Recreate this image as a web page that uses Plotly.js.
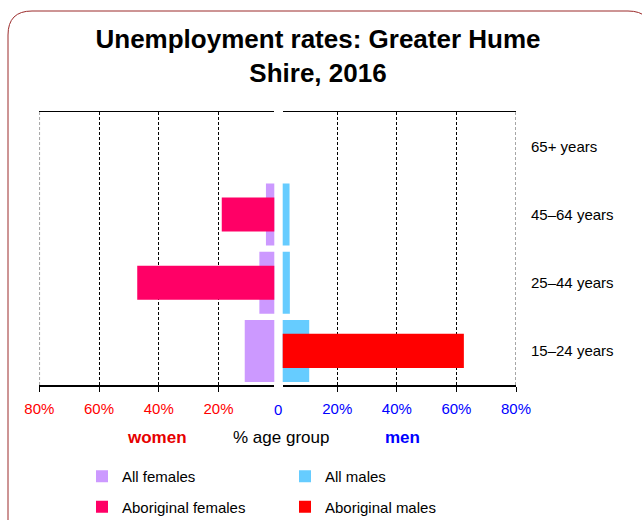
<!DOCTYPE html>
<html>
<head>
<meta charset="utf-8">
<script src="https://cdn.plot.ly/plotly-3.0.1.min.js"></script>
<style>
  body { margin: 0; background: #fff; }
  #chart { width: 642px; height: 520px; }
</style>
</head>
<body>
<div id="chart"></div>
<script>
const ageGroups = ["15–24 years", "25–44 years", "45–64 years", "65+ years"];

// unemployment rate, % of age group
const allFemales = [11.2, 6.3, 4.1, 0];
const aboriginalFemales = [0, 47.2, 18.9, 0];
const allMales = [10.6, 4.1, 4.0, 0];
const aboriginalMales = [62.5, 0, 0, 0];

const tickVals = [20, 40, 60, 80];
const tickText = tickVals.map((v) => v + "%");

const W = 642;
const H = 520;
const px = (x) => x / W;
const py = (y) => 1 - y / H;

const traces = [
  {
    name: "All females",
    y: ageGroups,
    x: allFemales,
    xaxis: "x",
    yaxis: "y",
    type: "bar",
    orientation: "h",
    width: 0.91,
    marker: { color: "#CC99FF" },
    legend: "legend",
    legendgroup: "af",
    hoverinfo: "skip",
  },
  {
    name: "Aboriginal females",
    y: ageGroups,
    x: aboriginalFemales,
    xaxis: "x",
    yaxis: "y",
    type: "bar",
    orientation: "h",
    width: 0.5,
    marker: { color: "#FF0066" },
    legend: "legend",
    legendgroup: "abf",
    hoverinfo: "skip",
  },
  {
    name: "All males",
    y: ageGroups,
    x: allMales,
    xaxis: "x2",
    yaxis: "y",
    type: "bar",
    orientation: "h",
    width: 0.91,
    marker: { color: "#66CCFF" },
    legend: "legend2",
    legendgroup: "am",
    hoverinfo: "skip",
  },
  {
    name: "Aboriginal males",
    y: ageGroups,
    x: aboriginalMales,
    xaxis: "x2",
    yaxis: "y",
    type: "bar",
    orientation: "h",
    width: 0.5,
    marker: { color: "#FF0000" },
    legend: "legend2",
    legendgroup: "abm",
    hoverinfo: "skip",
  },
];

const xCommon = {
  tickvals: tickVals,
  ticktext: tickText,
  showgrid: true,
  gridcolor: "#000",
  gridwidth: 1,
  griddash: "3px,2px",
  showline: true,
  mirror: true,
  linecolor: "#000",
  linewidth: 1.5,
  zeroline: false,
  ticks: "outside",
  ticklen: 5,
  tickcolor: "#000",
  ticklabelstandoff: 4,
  fixedrange: true,
  automargin: false,
};

// edge gridlines at 80% (Plotly drops grid lines sitting on the plot edge)
const edgeGrid = (axis) => ({
  type: "line",
  xref: axis,
  yref: "y domain",
  x0: 80,
  x1: 80,
  y0: 0,
  y1: 1,
  line: { color: "#888", width: 1.5, dash: "3px,2px" },
  layer: "above",
});

const label = (text, x, y, size, color) => ({
  text: text,
  xref: "paper",
  yref: "paper",
  x: px(x),
  y: py(y),
  xanchor: "center",
  yanchor: "middle",
  showarrow: false,
  font: { size: size, color: color },
});

const layout = {
  width: W,
  height: H,
  margin: { t: 0, l: 0, r: 0, b: 0, autoexpand: false },
  paper_bgcolor: "#fff",
  plot_bgcolor: "#fff",
  font: { family: "Liberation Sans, Arial, sans-serif", size: 15, color: "#000" },
  title: {
    text: "<b>Unemployment rates: Greater Hume<br>Shire, 2016</b>",
    font: { size: 26, color: "#000" },
    x: px(318),
    xanchor: "center",
    yref: "container",
    y: py(48),
    yanchor: "top",
  },
  barmode: "overlay",
  showlegend: true,
  xaxis: Object.assign({}, xCommon, {
    domain: [px(39.3), px(274.3)],
    range: [80, 1.3],
    anchor: "y",
    tickfont: { color: "#FF0000", size: 15 },
  }),
  xaxis2: Object.assign({}, xCommon, {
    domain: [px(282.7), px(516)],
    range: [1.7, 80],
    anchor: "y",
    tickfont: { color: "#0000FF", size: 15 },
  }),
  yaxis: {
    domain: [py(385), py(112.3)],
    type: "category",
    categoryorder: "array",
    categoryarray: ageGroups,
    range: [-0.5, 3.5],
    side: "right",
    anchor: "x2",
    showgrid: false,
    zeroline: false,
    showline: false,
    ticks: "",
    ticklabelstandoff: 14,
    tickfont: { size: 15, color: "#000" },
    fixedrange: true,
    automargin: false,
  },
  legend: {
    x: px(82),
    y: py(460),
    xanchor: "left",
    yanchor: "top",
    orientation: "v",
    traceorder: "grouped",
    tracegroupgap: 8,
    font: { size: 15 },
    bgcolor: "rgba(0,0,0,0)",
  },
  legend2: {
    x: px(285),
    y: py(460),
    xanchor: "left",
    yanchor: "top",
    orientation: "v",
    traceorder: "grouped",
    tracegroupgap: 8,
    font: { size: 15 },
    bgcolor: "rgba(0,0,0,0)",
  },
  annotations: [
    label("0", 277.7, 409, 15, "#0000FF"),
    label("<b>women</b>", 157, 437, 17, "#E60000"),
    label("% age group", 281, 437, 17, "#000"),
    label("<b>men</b>", 402, 437, 17, "#0000FF"),
  ],
  shapes: [
    edgeGrid("x"),
    edgeGrid("x2"),
    {
      type: "path",
      xref: "paper",
      yref: "paper",
      path:
        "M " + px(8) + "," + py(540) +
        " L " + px(8) + "," + py(35) +
        " Q " + px(8) + "," + py(11) + " " + px(32) + "," + py(11) +
        " L " + px(628) + "," + py(11) +
        " Q " + px(652) + "," + py(11) + " " + px(652) + "," + py(35) +
        " L " + px(652) + "," + py(540),
      line: { color: "#9B2B2B", width: 1 },
      fillcolor: "rgba(0,0,0,0)",
      layer: "above",
    },
  ],
};

Plotly.newPlot("chart", traces, layout, {
  responsive: false,
  displayModeBar: false,
  staticPlot: true,
});
</script>
</body>
</html>
